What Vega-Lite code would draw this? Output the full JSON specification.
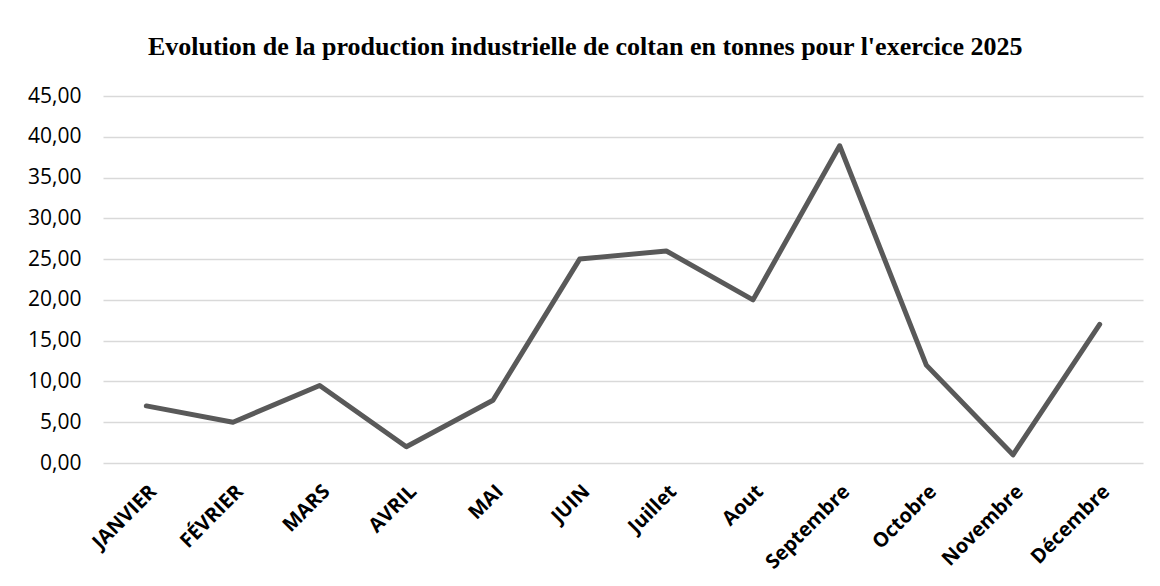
{
  "$schema": "https://vega.github.io/schema/vega-lite/v6.json",
  "width": 1040,
  "height": 367,
  "autosize": "none",
  "padding": {"left": 103, "top": 96, "right": 17, "bottom": 123},
  "background": "white",
  "title": {
    "text": "Evolution de la production industrielle de coltan en tonnes pour l'exercice 2025",
    "font": "Liberation Serif",
    "fontSize": 26,
    "fontWeight": "bold",
    "color": "#000000",
    "anchor": "middle",
    "frame": "bounds",
    "offset": 25
  },
  "data": {
    "values": [
      {"mois": "JANVIER", "tonnes": 7.0},
      {"mois": "FÉVRIER", "tonnes": 5.0},
      {"mois": "MARS", "tonnes": 9.5},
      {"mois": "AVRIL", "tonnes": 2.0},
      {"mois": "MAI", "tonnes": 7.7},
      {"mois": "JUIN", "tonnes": 25.0},
      {"mois": "Juillet", "tonnes": 26.0},
      {"mois": "Aout", "tonnes": 20.0},
      {"mois": "Septembre", "tonnes": 38.9},
      {"mois": "Octobre", "tonnes": 12.0},
      {"mois": "Novembre", "tonnes": 1.0},
      {"mois": "Décembre", "tonnes": 17.0}
    ]
  },
  "mark": {"type": "line", "color": "#595959", "strokeWidth": 5, "strokeJoin": "round", "strokeCap": "round"},
  "encoding": {
    "x": {
      "field": "mois",
      "type": "ordinal",
      "sort": null,
      "scale": {"type": "band", "paddingInner": 0, "paddingOuter": 0},
      "axis": {
        "title": null,
        "labelAngle": -45,
        "labelFont": "Open Sans",
        "labelFontWeight": "bold",
        "labelFontSize": 20,
        "labelColor": "#000000",
        "labelPadding": 18,
        "ticks": false,
        "domain": false,
        "grid": false
      }
    },
    "y": {
      "field": "tonnes",
      "type": "quantitative",
      "scale": {"domain": [0, 45], "nice": false},
      "axis": {
        "title": null,
        "values": [0, 5, 10, 15, 20, 25, 30, 35, 40, 45],
        "labelExpr": "replace(format(datum.value, '.2f'), '.', ',')",
        "labelFont": "Open Sans",
        "labelFontSize": 21,
        "labelColor": "#000000",
        "labelPadding": 22,
        "ticks": false,
        "domain": false,
        "grid": true,
        "gridColor": "#d9d9d9",
        "gridWidth": 1.5
      }
    }
  },
  "config": {
    "view": {"stroke": null}
  }
}
